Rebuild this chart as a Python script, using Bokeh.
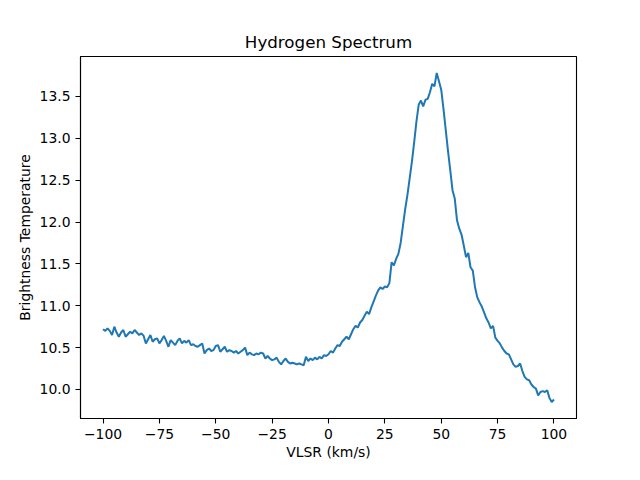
from bokeh.plotting import figure
from bokeh.embed import file_html
from bokeh.resources import INLINE
from bokeh.models import FixedTicker, PrintfTickFormatter, Range1d

velocity = list(range(-100, 101))
temperature = [
    10.72, 10.70, 10.73, 10.70, 10.65, 10.75, 10.68, 10.63, 10.68, 10.71,  # -100..-91
    10.63, 10.66, 10.69, 10.67, 10.71, 10.68, 10.65, 10.67, 10.64, 10.55,  # -90..-81
    10.60, 10.65, 10.57, 10.60, 10.61, 10.55, 10.59, 10.64, 10.58, 10.51,  # -80..-71
    10.59, 10.56, 10.53, 10.58, 10.61, 10.55, 10.58, 10.56, 10.59, 10.53,  # -70..-61
    10.54, 10.52, 10.51, 10.53, 10.55, 10.43, 10.47, 10.49, 10.46, 10.47,  # -60..-51
    10.52, 10.53, 10.45, 10.48, 10.51, 10.45, 10.47, 10.46, 10.44, 10.46,  # -50..-41
    10.43, 10.45, 10.47, 10.50, 10.41, 10.44, 10.42, 10.41, 10.43, 10.42,  # -40..-31
    10.44, 10.43, 10.37, 10.40, 10.37, 10.35, 10.36, 10.38, 10.33, 10.30,  # -30..-21
    10.34, 10.37, 10.33, 10.31, 10.32, 10.31, 10.30, 10.31, 10.30, 10.29,  # -20..-11
    10.39, 10.34, 10.37, 10.35, 10.38, 10.36, 10.39, 10.37, 10.41, 10.40,  # -10..-1
    10.42, 10.46, 10.44, 10.49, 10.53, 10.52, 10.57, 10.60, 10.63, 10.60,  # 0..9
    10.66, 10.72, 10.76, 10.74, 10.80, 10.83, 10.88, 10.93, 10.90, 10.98,  # 10..19
    11.05, 11.12, 11.18, 11.22, 11.20, 11.23, 11.22, 11.27, 11.52, 11.48,  # 20..29
    11.56, 11.62, 11.75, 11.95, 12.15, 12.32, 12.52, 12.72, 12.95, 13.20,  # 30..39
    13.40, 13.45, 13.38, 13.46, 13.47, 13.55, 13.65, 13.62, 13.78, 13.68,  # 40..49
    13.58, 13.35, 13.10, 12.85, 12.62, 12.38, 12.28, 12.02, 11.92, 11.85,  # 50..59
    11.72, 11.58, 11.63, 11.46, 11.42, 11.22, 11.10, 11.04, 10.99, 10.92,  # 60..69
    10.85, 10.80, 10.73, 10.76, 10.62, 10.58, 10.55, 10.50, 10.46, 10.43,  # 70..79
    10.42, 10.36, 10.30, 10.27, 10.28, 10.31, 10.22, 10.15, 10.12, 10.11,  # 80..89
    10.06, 10.03, 10.01, 9.93, 9.97, 9.98, 9.97, 9.99, 9.90, 9.85,         # 90..99
    9.88,                                                                  # 100
]
x_ticks = [-100, -75, -50, -25, 0, 25, 50, 75, 100]
x_tick_labels = ["\u2212100", "\u221275", "\u221250", "\u221225", "0", "25", "50", "75", "100"]
y_ticks = [10.0, 10.5, 11.0, 11.5, 12.0, 12.5, 13.0, 13.5]

title = "Hydrogen Spectrum"
x_label = "VLSR (km/s)"
y_label = "Brightness Temperature"

xmin, xmax = min(velocity), max(velocity)
ymin, ymax = min(temperature), max(temperature)
xpad = 0.05 * (xmax - xmin)
ypad = 0.05 * (ymax - ymin)

FONT = "DejaVu Sans"

p = figure(width=624, height=464, output_backend="svg", toolbar_location=None,
           x_range=Range1d(xmin - xpad, xmax + xpad),
           y_range=Range1d(ymin - ypad, ymax + ypad),
           min_border_left=80, min_border_right=48, min_border_top=56, min_border_bottom=46)

p.line(velocity, temperature, line_color="#1f77b4", line_width=2.0)

p.title.text = title
p.title.align = "center"
p.title.text_font = FONT
p.title.text_font_size = "16.7px"
p.title.text_font_style = "normal"
p.title.text_color = "black"

p.xgrid.visible = False
p.ygrid.visible = False
p.outline_line_color = "black"
p.outline_line_width = 1.1
p.background_fill_color = "white"
p.border_fill_color = "white"

p.xaxis.ticker = FixedTicker(ticks=x_ticks)
p.yaxis.ticker = FixedTicker(ticks=y_ticks)
p.yaxis.formatter = PrintfTickFormatter(format="%.1f")
p.xaxis.major_label_overrides = dict(zip(x_ticks, x_tick_labels))
p.xaxis.axis_label = x_label
p.yaxis.axis_label = y_label

for ax in (p.xaxis, p.yaxis):
    ax.axis_line_color = "black"
    ax.axis_line_width = 1.1
    ax.major_tick_line_color = "black"
    ax.major_tick_line_width = 1.1
    ax.major_tick_out = 5
    ax.major_tick_in = 0
    ax.minor_tick_line_color = None
    ax.major_label_text_font = FONT
    ax.major_label_text_font_size = "13.9px"
    ax.major_label_text_color = "black"
    ax.axis_label_text_font = FONT
    ax.axis_label_text_font_size = "13.9px"
    ax.axis_label_text_font_style = "normal"
    ax.axis_label_text_color = "black"
    ax.major_label_standoff = 5

p.xaxis.axis_label_standoff = 2
p.yaxis.axis_label_standoff = 4

open("out.html", "w").write(file_html(p, INLINE))
